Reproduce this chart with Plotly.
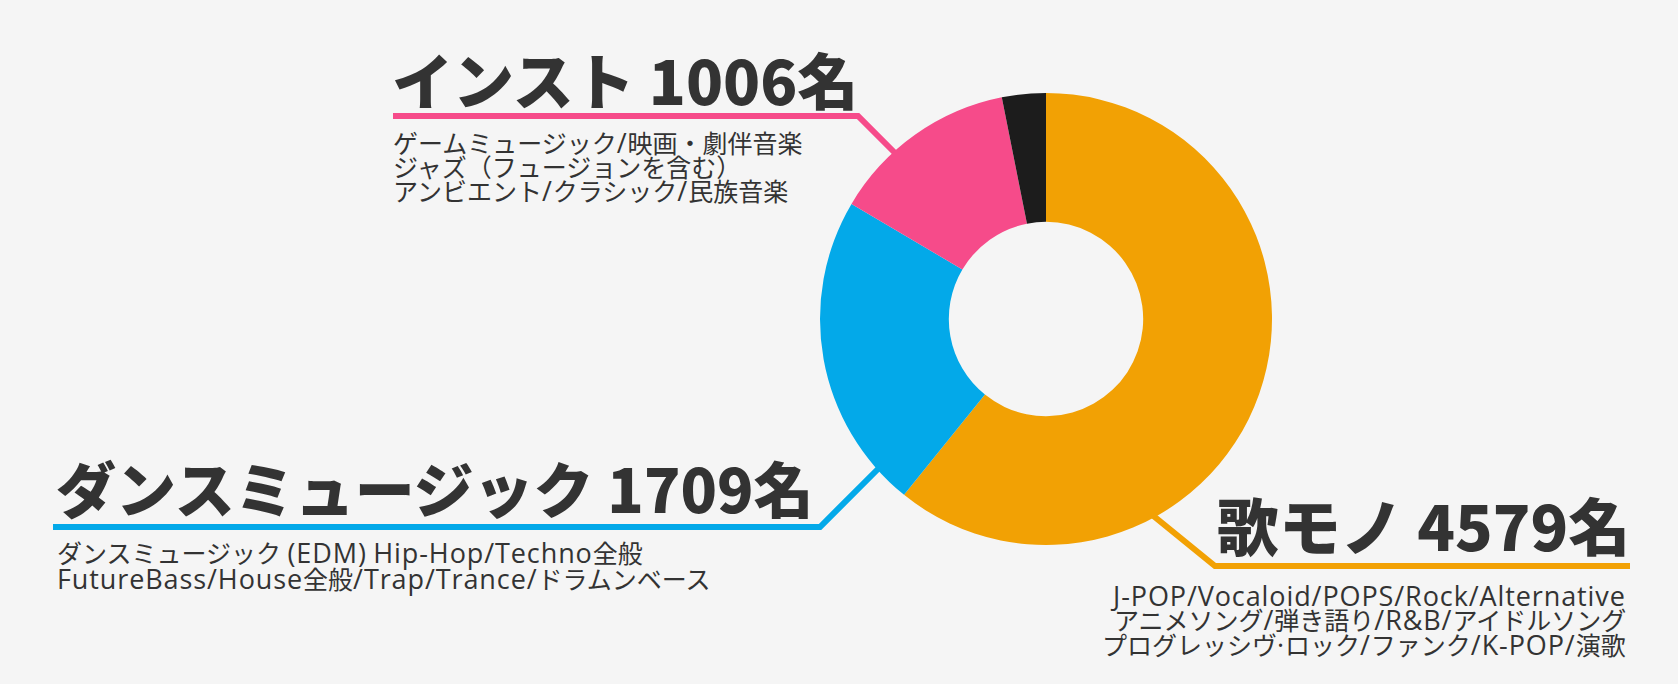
import re
import plotly.graph_objects as go

W, H = 1678, 684

categories = ["歌モノ", "ダンスミュージック", "インスト", "その他"]
counts = [4579, 1709, 1006, 236]
colors = ["#F2A104", "#03A9E9", "#F64B8A", "#1C1C1C"]

headings = ["歌モノ 4579名", "ダンスミュージック 1709名", "インスト 1006名"]
sub_uta = ["J-POP/Vocaloid/POPS/Rock/Alternative",
           "アニメソング/弾き語り/R&B/アイドルソング",
           "プログレッシヴ·ロック/ファンク/K-POP/演歌"]
sub_dance = ["ダンスミュージック (EDM) Hip-Hop/Techno全般",
             "FutureBass/House全般/Trap/Trance/ドラムンベース"]
sub_inst = ["ゲームミュージック/映画・劇伴音楽",
            "ジャズ（フュージョンを含む）",
            "アンビエント/クラシック/民族音楽"]


def px(x):
    return x / W


def py(y):
    return 1 - y / H


cx, cy, r = 1046, 319, 226
fig = go.Figure(go.Pie(
    labels=categories, values=counts, sort=False, direction="clockwise",
    rotation=0, hole=0.43,
    marker=dict(colors=colors, line=dict(width=0)),
    textinfo="none", hoverinfo="label+value", showlegend=False,
    domain=dict(x=[px(cx - r), px(cx + r)], y=[py(cy + r), py(cy - r)]),
))

TXT = "#333333"
HFONT = "Noto Sans CJK JP"
SFONT = "'Open Sans', 'Noto Sans CJK JP'"
ann = []
shapes = []


def leader(points, color):
    d = "M " + " L ".join(f"{px(x)} {py(y)}" for x, y in points)
    shapes.append(dict(type="path", path=d, xref="paper", yref="paper",
                       line=dict(color=color, width=6), layer="below"))


leader([(1630, 566), (1215, 566), (1140, 505)], colors[0])
leader([(53, 527), (820, 527), (885, 462)], colors[1])
leader([(393, 116), (858, 116), (900, 158)], colors[2])


def head(text, x, y, anchor, size):
    ann.append(dict(text=text, x=px(x), y=py(y), xref="paper", yref="paper",
                    xanchor=anchor, yanchor="middle", showarrow=False,
                    font=dict(family=HFONT, size=size, color=TXT, weight=900)))


def widen_latin(t):
    def rep(m):
        s = m.group(0).replace("&", "&amp;")
        return f'<span style="font-size:27px;letter-spacing:0.9px">{s}</span>'
    return re.sub(r"[\x21-\x7E\u00B7]+", rep, t)


def sub(lines, x, ys, anchor):
    for t, y in zip(lines, ys):
        ann.append(dict(text=widen_latin(t), x=px(x), y=py(y),
                        xref="paper", yref="paper",
                        xanchor=anchor, yanchor="middle", showarrow=False,
                        font=dict(family=SFONT, size=25, color=TXT)))


head(headings[0], 1632, 524, "right", 62)
head(headings[1], 54, 486, "left", 60)
head(headings[2], 390, 78, "left", 61)
sub(sub_uta, 1628, [595, 619, 644], "right")
sub(sub_dance, 55, [552, 578], "left")
sub(sub_inst, 391, [143, 167, 191], "left")

fig.update_layout(
    width=W, height=H, margin=dict(l=0, r=0, t=0, b=0),
    paper_bgcolor="#F5F5F5", plot_bgcolor="#F5F5F5",
    annotations=ann, shapes=shapes,
)
fig.write_html("out.html")
